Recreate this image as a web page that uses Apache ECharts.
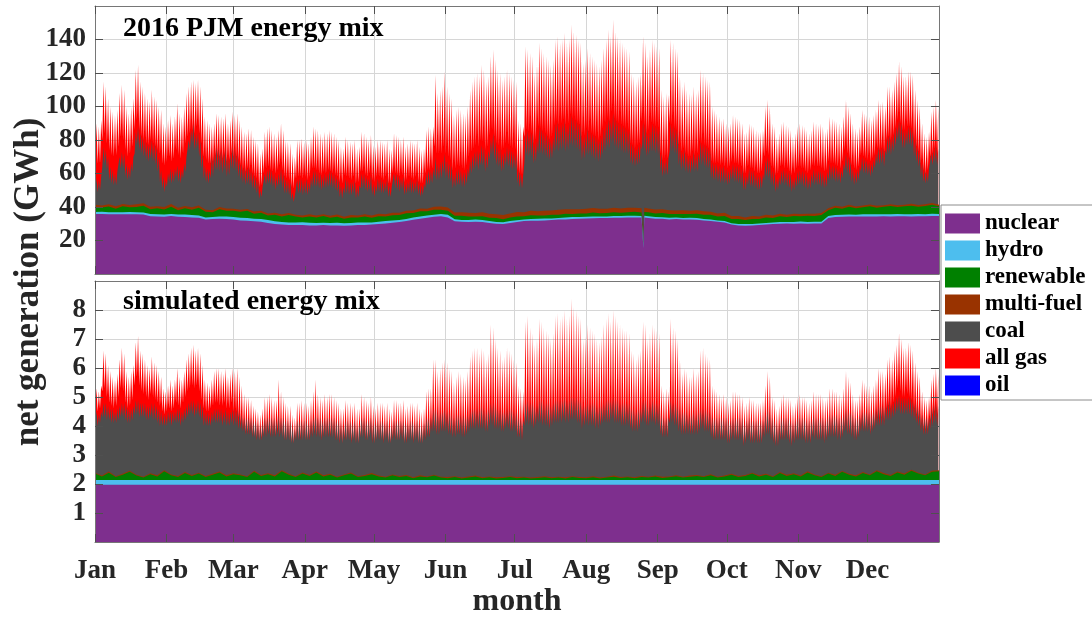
<!DOCTYPE html>
<html><head><meta charset="utf-8">
<script src="https://cdn.jsdelivr.net/npm/echarts@6/dist/echarts.min.js"></script>
<style>html,body{margin:0;padding:0;background:#fff}#c{width:1092px;height:619px}</style>
</head><body><div id="c"></div>
<script>
// ---------- categories / ticks ----------
const monthNames = ['Jan','Feb','Mar','Apr','May','Jun','Jul','Aug','Sep','Oct','Nov','Dec'];
const monthStartDays = [0,31,60,91,121,152,182,213,244,274,305,335];
const pjmTicks = [20,40,60,80,100,120,140];
const simTicks = [1,2,3,4,5,6,7,8];
const legendNames = ['nuclear','hydro','renewable','multi-fuel','coal','all gas','oil'];

// ---------- 2016 PJM (GWh), one value per day (day 0 = 1 Jan) ----------
// total generation at the afternoon peak / at the night low
const pjmTotalDay = [
90,88,92,115,112,105,100,97,95,98,108,113,110,100,96,100,105,122,125,115,
112,108,105,103,110,106,104,100,98,90,88,92,95,90,94,102,96,94,100,108,
112,115,116,114,116,112,105,94,92,90,88,90,96,95,94,93,96,90,92,97,
95,96,92,88,85,84,87,86,82,80,78,72,75,85,87,88,86,84,82,86,
90,86,80,79,78,72,70,80,80,81,79,80,78,82,88,87,86,84,82,85,
84,86,85,84,82,80,76,75,82,80,79,78,80,75,76,85,84,82,80,83,
77,76,80,80,79,78,80,75,74,84,83,82,80,82,76,78,80,79,78,80,
76,74,75,86,88,87,88,119,108,110,112,121,112,108,105,95,98,100,98,96,
95,100,110,115,118,120,118,125,122,115,118,130,134,128,122,120,116,118,122,120,
118,116,115,92,90,88,136,134,132,130,120,125,138,135,132,130,128,125,128,140,
142,138,140,144,138,140,149,145,143,140,138,126,128,135,132,130,128,126,124,128,
135,140,146,142,152,145,142,140,138,136,135,133,120,118,115,118,120,142,138,130,
134,140,138,136,135,110,106,108,107,140,138,135,133,118,112,115,110,108,107,112,
108,110,122,120,118,116,115,100,98,96,94,92,93,90,88,90,95,94,93,92,
90,84,85,90,89,88,86,85,85,86,100,104,100,90,88,82,84,90,91,89,
88,86,82,84,88,90,89,88,86,84,86,91,90,89,90,88,85,87,94,93,
92,91,90,88,94,104,100,96,90,87,85,88,98,96,95,94,92,95,98,104,
102,103,100,112,112,110,115,120,127,124,118,118,121,121,119,110,104,100,90,84,
82,85,97,100,104,100];
const pjmTotalNight = [
68,66,66,80,84,78,74,71,70,71,76,82,80,74,70,72,76,86,92,86,
82,80,78,77,80,78,76,74,72,66,65,67,70,67,69,74,71,69,72,78,
82,84,86,84,88,84,78,70,68,66,66,67,71,71,70,69,71,67,68,72,
70,70,68,65,62,61,63,62,60,58,57,52,53,60,63,64,62,61,60,62,
65,62,58,57,56,52,51,57,58,58,57,58,56,58,63,63,62,60,59,61,
60,62,61,60,59,58,55,54,59,58,57,56,58,54,55,61,61,59,58,60,
56,55,58,58,57,56,58,54,54,60,60,59,58,59,55,56,58,57,56,58,
55,54,54,60,62,62,63,76,72,72,72,76,72,70,68,62,63,65,64,63,
62,65,70,73,75,77,76,80,79,74,76,83,86,82,78,77,74,75,78,77,
76,75,74,62,60,59,82,86,85,84,78,80,88,87,85,84,82,80,82,89,
91,89,90,92,89,90,95,93,92,90,89,82,83,87,85,84,83,82,80,82,
87,90,93,91,97,93,91,90,89,88,87,86,78,77,75,77,78,91,89,84,
86,90,89,88,87,72,68,69,69,90,89,87,86,77,73,75,72,70,70,73,
71,72,79,78,77,76,75,67,66,66,66,65,66,64,63,64,67,66,66,65,
64,60,60,64,63,63,61,60,60,61,70,73,71,64,63,59,60,64,65,63,
63,61,59,60,63,64,63,63,61,60,62,65,64,64,64,63,61,62,67,66,
66,65,64,63,67,74,72,69,65,63,62,64,71,70,69,68,67,69,71,75,
74,75,73,80,82,80,83,87,92,90,86,86,88,88,87,80,76,73,66,62,
60,62,70,72,75,72];
// upper edge of the coal layer (cumulative) at the afternoon peak / night low
const pjmCoalEdgeDay = [
57,56,58,76,74,70,64,62,60,61,70,73,72,66,64,66,70,85,88,84,
82,80,78,77,80,78,76,70,62,58,56,60,63,62,63,65,63,62,66,70,
80,86,90,84,85,80,72,65,63,62,70,72,76,75,74,72,75,70,72,76,
74,72,68,66,64,63,64,62,60,58,56,50,52,60,62,63,62,60,58,60,
63,60,57,56,55,49,47,56,57,57,56,57,55,58,62,62,61,60,58,60,
60,62,61,60,58,57,53,52,57,56,55,55,56,52,53,60,60,58,57,59,
54,53,57,57,56,55,57,53,52,60,60,59,57,58,54,55,57,56,55,57,
54,53,54,60,62,62,63,70,66,67,68,72,68,66,65,60,62,63,62,61,
61,63,68,71,73,74,73,77,76,72,74,80,84,80,76,75,72,73,76,75,
74,73,72,62,60,59,84,86,85,84,78,80,88,87,85,84,82,80,82,90,
91,89,90,92,88,90,95,93,92,90,89,82,83,87,85,84,83,82,80,82,
87,90,93,91,96,93,91,90,89,88,87,86,78,77,75,77,78,91,89,84,
86,90,89,88,87,72,68,69,69,90,89,87,86,77,73,75,72,70,70,73,
71,72,79,78,77,76,75,67,66,66,65,64,65,63,62,63,66,65,65,64,
63,59,59,63,62,62,60,59,59,60,68,70,68,62,61,57,58,62,63,62,
61,60,57,58,61,62,62,61,60,58,60,63,62,62,62,61,59,61,66,65,
65,64,63,62,66,72,70,67,63,61,62,64,70,69,68,67,66,68,72,76,
75,76,74,82,83,82,85,88,92,90,86,86,88,88,86,80,76,73,66,62,
61,63,72,74,77,75];
const pjmCoalEdgeNight = [
50,49,50,64,66,62,56,54,53,53,60,63,63,58,56,57,61,72,77,74,
72,70,68,67,69,67,65,61,55,51,49,52,55,54,55,57,55,54,57,61,
69,74,78,74,75,70,63,57,55,54,57,58,62,62,61,60,62,58,59,63,
62,61,58,56,54,53,54,53,51,50,48,45,46,51,53,54,53,52,50,52,
53,51,48,48,47,44,43,47,48,48,47,48,47,49,52,52,52,51,50,51,
51,52,52,51,50,49,46,45,48,48,47,47,48,45,46,51,51,50,49,50,
47,46,49,49,48,48,49,46,46,51,51,50,49,50,47,48,49,48,48,49,
47,46,47,51,53,53,54,58,56,56,57,60,57,56,55,51,52,53,53,52,
52,54,58,60,62,63,62,65,65,61,63,68,71,68,65,64,61,62,65,64,
63,62,62,54,52,51,66,71,70,70,66,67,72,72,71,70,69,68,69,73,
74,73,74,75,73,74,77,76,75,74,73,68,69,72,71,70,69,68,67,68,
71,73,76,75,78,76,75,74,73,72,72,71,66,65,64,65,66,74,73,70,
71,73,73,72,71,61,58,59,59,73,73,72,71,65,62,63,61,60,60,62,
61,61,66,65,64,63,63,57,56,56,55,54,55,54,53,54,56,55,55,54,
53,50,50,53,52,52,51,50,50,51,56,58,57,53,52,49,50,53,54,53,
52,51,49,50,52,53,53,52,51,50,51,54,53,53,53,52,51,52,56,56,
56,55,55,54,57,62,60,58,55,53,54,56,61,60,60,59,58,60,63,66,
65,66,64,71,72,71,73,76,80,79,75,75,77,77,76,70,67,64,58,55,
54,55,63,65,67,65];
// thin layers, one value every 3 days (day 0,3,...,366)
const pjmNuclear = [
35.8,35.8,35.7,35.7,35.6,35.6,35.6,35.5,34.5,34.3,34.2,34.6,34.2,34.0,33.8,33.6,32.6,32.8,33.0,32.8,
32.5,32.0,31.8,31.5,31.2,30.4,29.8,29.5,29.3,29.2,29.2,29.0,29.0,29.2,29.0,29.0,28.8,29.0,29.2,29.3,
29.5,29.8,30.2,30.6,31.0,31.6,32.4,33.0,33.6,34.2,34.5,33.8,31.5,31.2,31.0,31.2,31.0,30.5,30.0,29.8,
30.5,31.0,31.6,31.8,31.8,32.0,32.2,32.5,32.6,32.8,33.0,33.2,33.3,33.4,33.5,33.6,33.6,33.8,33.8,33.8,
33.5,33.0,33.0,32.6,32.8,32.5,32.6,32.4,32.0,31.6,31.2,30.8,29.5,28.9,28.8,29.0,29.3,29.6,29.8,30.0,
30.2,30.0,30.2,30.0,30.1,30.2,33.5,34.0,34.2,34.3,34.3,34.4,34.4,34.4,34.5,34.4,34.5,34.5,34.4,34.5,
34.5,34.6,34.6];
const pjmHydro = [
1.2,1.3,1.2,1.1,1.3,1.4,1.2,1.2,1.3,1.4,1.3,1.2,1.3,1.5,1.4,1.3,1.2,1.3,1.4,1.5,
1.5,1.6,1.7,1.5,1.6,1.8,1.7,1.6,1.5,1.6,1.7,1.6,1.5,1.4,1.5,1.6,1.5,1.4,1.5,1.4,
1.3,1.4,1.5,1.4,1.3,1.2,1.3,1.4,1.3,1.2,1.3,1.5,1.2,1.1,1.2,1.3,1.2,1.1,1.0,1.1,
1.2,1.1,1.0,1.1,1.2,1.1,1.0,1.0,1.1,1.2,1.1,1.0,1.1,1.0,0.9,1.0,1.1,1.0,1.0,0.9,
1.0,1.0,0.9,1.0,1.0,0.9,1.0,1.0,0.9,0.9,0.8,0.9,0.8,0.9,1.0,0.9,0.8,0.9,0.9,1.0,
0.9,1.0,1.1,1.0,1.1,1.0,1.1,1.2,1.1,1.2,1.1,1.2,1.3,1.2,1.1,1.2,1.3,1.2,1.2,1.3,
1.2,1.3,1.2];
const pjmRenewable = [
3.0,2.6,3.4,2.2,3.6,2.8,3.2,4.0,2.9,3.5,3.0,4.4,2.6,3.8,3.1,4.6,3.3,2.7,4.2,3.5,
3.8,3.6,4.2,3.0,3.7,2.8,3.9,3.2,4.4,3.5,2.9,3.8,3.3,4.0,3.1,3.6,2.7,3.4,3.0,3.7,
2.8,3.3,2.6,3.1,2.9,3.4,2.7,3.0,2.5,2.9,2.6,2.4,2.1,2.5,2.2,1.9,2.3,2.0,2.4,1.8,
2.1,2.3,1.9,2.2,2.0,1.8,2.1,1.9,2.2,1.8,2.0,1.9,2.3,1.8,2.0,2.2,1.9,2.1,2.4,2.0,
2.3,2.1,2.5,2.2,2.0,2.4,2.2,2.6,2.5,2.8,2.3,2.9,2.6,3.1,2.4,3.0,2.7,3.3,2.8,3.5,
3.0,3.6,3.2,3.8,3.4,4.0,3.5,4.3,3.7,4.6,3.9,4.2,4.8,4.0,4.5,5.0,4.2,4.7,5.2,4.4,
4.9,5.4,4.6];
const pjmMultiFuel = [
1.3,1.2,1.4,1.5,1.3,1.4,1.6,1.5,1.4,1.3,1.5,1.6,1.4,1.3,1.5,1.4,1.3,1.2,1.4,1.3,
1.2,1.2,1.1,1.3,1.2,1.1,1.2,1.3,1.2,1.1,1.2,1.3,1.2,1.1,1.2,1.3,1.2,1.4,1.3,1.2,
1.3,1.4,1.3,1.5,1.4,1.6,1.5,1.7,1.6,1.8,1.9,2.0,1.9,2.1,2.2,2.0,2.3,2.4,2.2,2.5,
2.3,2.6,2.4,2.7,2.5,2.8,2.6,2.9,2.7,2.8,2.6,2.9,2.7,2.8,2.6,2.7,2.5,2.6,2.4,2.5,
2.3,2.4,2.2,2.3,2.1,2.2,2.0,2.1,2.0,1.9,1.8,1.9,1.7,1.8,1.6,1.7,1.5,1.6,1.4,1.5,
1.3,1.4,1.3,1.2,1.3,1.2,1.1,1.2,1.1,1.2,1.0,1.1,1.0,1.1,1.0,1.1,1.0,1.0,1.1,1.0,
1.0,1.1,1.0];
// short nuclear outage in late August
const pjmOutageDays = [237.4, 237.8, 238.2];
const pjmOutageNuclear = [33.8, 15.5, 33.8];
const pjmOutageHydro = [1.0, 0.4, 1.0];
const pjmOutageRenewable = [2.2, 0.8, 2.2];
const pjmOutageMultiFuel = [2.6, 0.8, 2.6];

// ---------- simulated mix, one value per day ----------
const simTotalDay = [
5.3,5.2,5.4,6.6,6.5,6.1,5.9,5.7,5.6,5.8,6.3,6.7,6.5,5.9,5.7,5.9,6.1,6.9,7.1,6.6,
6.5,6.3,6.1,6.0,6.4,6.2,6.1,5.9,5.7,5.3,5.2,5.4,5.6,5.4,5.6,6.0,5.7,5.6,5.9,6.3,
6.5,6.7,6.8,6.6,6.7,6.5,6.1,5.6,5.5,5.4,5.6,5.9,6.0,6.0,5.9,5.8,6.0,5.7,5.8,6.0,
5.9,6.0,5.7,5.4,5.1,5.0,5.0,4.9,4.7,4.6,4.5,4.4,4.6,5.0,5.0,5.1,5.0,4.9,4.9,5.6,
5.2,5.0,4.8,4.7,4.7,4.4,4.3,4.8,4.8,4.9,4.8,4.8,4.7,4.9,5.2,5.6,5.1,5.0,4.9,5.1,
5.0,5.1,5.1,5.0,4.9,4.8,4.6,4.6,4.9,4.8,4.8,4.7,4.8,4.6,4.6,5.1,5.0,4.9,4.8,5.0,
4.7,4.6,4.8,4.8,4.8,4.7,4.8,4.6,4.5,4.9,4.9,4.8,4.8,4.9,4.6,4.7,4.8,4.8,4.7,4.8,
4.6,4.5,4.6,5.2,5.3,5.3,6.3,6.3,5.9,6.0,6.2,6.3,6.2,6.0,5.9,5.5,5.7,5.9,5.8,5.7,
5.6,5.9,6.4,6.6,6.7,6.7,6.5,6.7,6.6,6.3,6.5,7.5,7.4,7.0,6.7,6.6,6.3,6.4,6.7,6.6,
6.5,6.3,6.2,5.4,5.3,5.2,7.6,7.8,7.4,7.2,6.8,7.0,7.7,7.6,7.4,7.3,7.2,7.0,7.2,7.8,
7.9,7.7,7.8,8.0,7.7,7.8,8.4,8.1,8.0,7.8,7.7,7.0,7.1,7.5,7.4,7.3,7.2,7.0,6.9,7.1,
7.5,7.7,7.9,7.6,8.0,7.8,7.6,7.5,7.4,7.3,7.3,7.2,6.6,6.5,6.3,6.5,6.6,7.6,7.5,7.0,
7.2,7.5,7.4,7.3,7.2,5.4,5.2,5.3,5.2,7.7,7.4,7.3,7.0,6.3,5.8,6.0,5.9,5.7,5.7,6.0,
5.8,5.9,6.6,6.7,6.5,6.4,6.3,5.4,5.3,5.2,5.1,5.0,5.1,5.0,4.8,4.9,5.2,5.2,5.1,5.1,
5.0,4.7,4.8,5.0,4.9,4.9,4.8,4.8,4.8,4.9,5.4,5.9,5.7,5.0,4.9,4.6,4.7,5.0,5.1,5.0,
5.0,4.9,4.7,4.8,5.0,5.1,5.0,5.0,4.9,4.8,4.9,5.2,5.1,5.1,5.1,5.0,4.9,5.0,5.3,5.3,
5.2,5.2,5.1,5.0,5.3,5.9,5.7,5.5,5.1,4.9,4.9,5.1,5.6,5.5,5.4,5.4,5.2,5.4,5.6,6.0,
5.9,5.9,5.8,6.3,6.4,6.3,6.6,6.8,7.2,7.0,6.7,6.7,6.9,6.8,6.6,6.2,5.9,5.7,5.2,5.0,
4.9,5.0,5.6,5.8,6.0,5.8];
const simTotalNight = [
4.6,4.5,4.6,5.2,5.3,5.0,4.8,4.7,4.6,4.7,5.0,5.3,5.2,4.8,4.6,4.7,4.9,5.4,5.7,5.4,
5.2,5.1,5.0,4.9,5.1,5.0,4.9,4.8,4.7,4.5,4.4,4.5,4.6,4.5,4.6,4.8,4.7,4.6,4.8,5.0,
5.2,5.3,5.4,5.3,5.4,5.2,4.9,4.6,4.5,4.5,4.6,4.7,4.8,4.8,4.7,4.7,4.8,4.6,4.6,4.8,
4.5,4.5,4.3,4.1,3.9,3.8,3.8,3.8,3.7,3.6,3.6,3.5,3.6,3.7,3.7,3.8,3.7,3.7,3.7,3.9,
3.7,3.6,3.5,3.5,3.5,3.4,3.4,3.5,3.5,3.6,3.5,3.5,3.5,3.6,3.7,3.8,3.7,3.6,3.6,3.7,
3.6,3.7,3.7,3.6,3.6,3.5,3.5,3.4,3.6,3.5,3.5,3.5,3.5,3.4,3.4,3.6,3.6,3.6,3.5,3.6,
3.5,3.4,3.5,3.5,3.5,3.5,3.5,3.4,3.4,3.6,3.6,3.5,3.5,3.6,3.4,3.5,3.5,3.5,3.5,3.5,
3.4,3.4,3.4,3.6,3.7,3.7,3.9,3.9,3.8,3.8,3.9,3.9,3.9,3.8,3.8,3.7,3.7,3.8,3.8,3.7,
3.7,3.8,3.9,4.0,4.0,4.0,4.0,4.0,4.0,3.9,3.9,4.1,4.1,4.0,4.0,4.0,3.9,3.9,4.0,4.0,
3.9,3.9,3.9,3.7,3.7,3.6,4.1,4.2,4.1,4.1,4.0,4.1,4.2,4.2,4.1,4.1,4.1,4.0,4.1,4.2,
4.2,4.2,4.2,4.3,4.2,4.2,4.3,4.3,4.3,4.2,4.2,4.0,4.1,4.2,4.1,4.1,4.1,4.0,4.0,4.1,
4.2,4.2,4.2,4.2,4.3,4.2,4.2,4.2,4.1,4.1,4.1,4.1,4.0,3.9,3.9,3.9,4.0,4.2,4.2,4.1,
4.1,4.2,4.2,4.1,4.1,3.8,3.7,3.7,3.7,4.2,4.2,4.1,4.1,3.9,3.8,3.8,3.8,3.8,3.8,3.8,
3.8,3.8,3.9,4.0,3.9,3.9,3.9,3.7,3.6,3.6,3.6,3.6,3.6,3.6,3.5,3.5,3.6,3.6,3.6,3.6,
3.6,3.4,3.5,3.6,3.5,3.5,3.5,3.5,3.5,3.5,3.7,3.8,3.8,3.6,3.5,3.4,3.4,3.6,3.6,3.6,
3.6,3.5,3.4,3.5,3.6,3.6,3.6,3.6,3.5,3.5,3.5,3.7,3.6,3.6,3.6,3.6,3.5,3.6,3.7,3.7,
3.7,3.7,3.6,3.6,3.7,3.9,3.8,3.8,3.7,3.6,3.6,3.7,4.0,3.9,3.9,3.9,3.8,3.9,4.0,4.3,
4.3,4.3,4.2,4.6,4.7,4.6,4.8,5.0,5.3,5.2,5.0,5.0,5.1,5.0,4.9,4.6,4.4,4.3,4.0,3.9,
3.9,3.9,4.2,4.4,4.5,4.4];
const simCoalEdgeDay = [
4.5,4.4,4.5,4.8,4.8,4.7,4.6,4.6,4.5,4.6,4.7,4.8,4.8,4.7,4.6,4.6,4.7,4.9,4.9,4.8,
4.8,4.8,4.7,4.7,4.8,4.8,4.7,4.6,4.5,4.4,4.4,4.5,4.5,4.5,4.5,4.6,4.6,4.5,4.6,4.7,
4.8,4.9,4.9,4.8,4.9,4.8,4.7,4.5,4.5,4.4,4.5,4.6,4.6,4.6,4.6,4.5,4.6,4.5,4.5,4.6,
4.6,4.6,4.5,4.4,4.3,4.3,4.3,4.3,4.2,4.2,4.1,4.0,4.1,4.3,4.3,4.3,4.3,4.3,4.2,4.4,
4.3,4.3,4.2,4.2,4.2,4.0,3.9,4.2,4.2,4.2,4.2,4.2,4.1,4.2,4.3,4.4,4.3,4.3,4.2,4.3,
4.3,4.3,4.3,4.3,4.2,4.2,4.1,4.0,4.2,4.2,4.2,4.1,4.2,4.0,4.1,4.3,4.3,4.2,4.2,4.3,
4.1,4.1,4.2,4.2,4.2,4.1,4.2,4.0,4.0,4.2,4.2,4.2,4.2,4.2,4.1,4.1,4.2,4.2,4.1,4.2,
4.1,4.0,4.1,4.3,4.3,4.3,4.6,4.6,4.5,4.5,4.5,4.6,4.5,4.5,4.4,4.3,4.4,4.4,4.4,4.4,
4.3,4.4,4.5,4.6,4.6,4.6,4.6,4.7,4.6,4.5,4.6,4.8,4.8,4.7,4.6,4.6,4.5,4.5,4.6,4.6,
4.6,4.5,4.5,4.3,4.3,4.2,4.8,4.9,4.8,4.8,4.7,4.7,4.9,4.9,4.8,4.8,4.8,4.7,4.8,4.9,
4.9,4.9,4.9,5.0,4.9,4.9,5.0,5.0,5.0,4.9,4.9,4.7,4.7,4.8,4.8,4.8,4.8,4.7,4.7,4.7,
4.8,4.9,4.9,4.9,5.0,4.9,4.9,4.8,4.8,4.8,4.8,4.8,4.6,4.6,4.5,4.6,4.6,4.9,4.9,4.7,
4.8,4.9,4.8,4.8,4.8,4.4,4.3,4.3,4.3,4.9,4.8,4.8,4.7,4.6,4.5,4.5,4.5,4.4,4.4,4.5,
4.4,4.5,4.6,4.6,4.6,4.5,4.5,4.3,4.3,4.3,4.3,4.3,4.3,4.3,4.2,4.2,4.3,4.3,4.3,4.3,
4.3,4.1,4.2,4.3,4.2,4.2,4.2,4.2,4.2,4.2,4.4,4.6,4.5,4.3,4.2,4.1,4.1,4.3,4.3,4.3,
4.3,4.2,4.1,4.2,4.3,4.3,4.3,4.3,4.2,4.2,4.2,4.4,4.3,4.3,4.3,4.3,4.2,4.3,4.4,4.4,
4.4,4.4,4.3,4.3,4.4,4.6,4.5,4.5,4.4,4.3,4.3,4.4,4.5,4.5,4.5,4.5,4.4,4.5,4.6,4.7,
4.7,4.7,4.7,4.8,4.9,4.8,4.9,5.0,5.1,5.0,5.0,5.0,5.0,5.0,4.9,4.8,4.7,4.6,4.4,4.3,
4.3,4.3,4.6,4.7,4.8,4.7];
const simCoalEdgeNight = [
4.1,4.0,4.1,4.3,4.3,4.2,4.2,4.1,4.1,4.1,4.2,4.3,4.3,4.2,4.1,4.1,4.2,4.4,4.4,4.3,
4.3,4.3,4.2,4.2,4.3,4.2,4.2,4.1,4.0,4.0,4.0,4.0,4.1,4.0,4.1,4.1,4.1,4.0,4.1,4.2,
4.3,4.4,4.4,4.3,4.4,4.3,4.2,4.0,4.0,4.0,4.0,4.1,4.1,4.1,4.1,4.0,4.1,4.0,4.0,4.1,
4.0,4.0,3.9,3.9,3.8,3.7,3.7,3.7,3.6,3.6,3.5,3.5,3.5,3.6,3.6,3.7,3.6,3.6,3.6,3.7,
3.6,3.6,3.5,3.5,3.5,3.4,3.4,3.5,3.5,3.5,3.5,3.5,3.5,3.5,3.6,3.7,3.6,3.6,3.5,3.6,
3.6,3.6,3.6,3.6,3.5,3.5,3.4,3.4,3.5,3.5,3.5,3.4,3.5,3.4,3.4,3.6,3.6,3.5,3.5,3.6,
3.4,3.4,3.5,3.5,3.5,3.4,3.5,3.4,3.4,3.5,3.5,3.5,3.5,3.5,3.4,3.4,3.5,3.5,3.4,3.5,
3.4,3.4,3.4,3.5,3.6,3.6,3.8,3.8,3.7,3.7,3.8,3.8,3.8,3.7,3.7,3.6,3.6,3.7,3.7,3.6,
3.6,3.7,3.8,3.9,3.9,3.9,3.9,3.9,3.9,3.8,3.8,4.0,4.0,3.9,3.9,3.9,3.8,3.8,3.9,3.9,
3.8,3.8,3.8,3.6,3.6,3.5,4.0,4.1,4.0,4.0,3.9,4.0,4.1,4.1,4.0,4.0,4.0,3.9,4.0,4.1,
4.1,4.1,4.1,4.2,4.1,4.1,4.2,4.2,4.2,4.1,4.1,3.9,4.0,4.1,4.0,4.0,4.0,3.9,3.9,4.0,
4.1,4.1,4.1,4.1,4.2,4.1,4.1,4.1,4.0,4.0,4.0,4.0,3.9,3.8,3.8,3.8,3.9,4.1,4.1,4.0,
4.0,4.1,4.1,4.0,4.0,3.7,3.6,3.6,3.6,4.1,4.1,4.0,4.0,3.8,3.7,3.7,3.7,3.7,3.7,3.7,
3.7,3.7,3.8,3.9,3.8,3.8,3.8,3.6,3.5,3.5,3.5,3.5,3.5,3.5,3.4,3.4,3.5,3.5,3.5,3.5,
3.5,3.3,3.4,3.5,3.4,3.4,3.4,3.4,3.4,3.4,3.6,3.7,3.7,3.5,3.4,3.3,3.3,3.5,3.5,3.5,
3.5,3.4,3.3,3.4,3.5,3.5,3.5,3.5,3.4,3.4,3.4,3.6,3.5,3.5,3.5,3.5,3.4,3.5,3.6,3.6,
3.6,3.6,3.5,3.5,3.6,3.8,3.7,3.7,3.6,3.5,3.5,3.6,3.8,3.8,3.8,3.8,3.7,3.8,3.9,4.0,
4.0,4.0,4.0,4.2,4.2,4.2,4.3,4.4,4.5,4.4,4.4,4.4,4.4,4.4,4.3,4.2,4.1,4.0,3.8,3.7,
3.7,3.7,3.9,4.0,4.1,4.0];
// simulated thin layers, one value every 3 days
const simNuclear = [
1.97,1.97,1.97,1.97,1.97,1.97,1.97,1.97,1.97,1.97,1.97,1.97,1.97,1.97,1.97,1.97,1.97,1.97,1.97,1.97,
1.97,1.97,1.97,1.97,1.97,1.97,1.97,1.97,1.97,1.97,1.97,1.97,1.97,1.97,1.97,1.97,1.97,1.97,1.97,1.97,
1.97,1.97,1.97,1.97,1.97,1.97,1.97,1.97,1.97,1.97,1.97,1.97,1.97,1.97,1.97,1.97,1.97,1.97,1.97,1.97,
1.97,1.97,1.97,1.97,1.97,1.97,1.97,1.97,1.97,1.97,1.97,1.97,1.97,1.97,1.97,1.97,1.97,1.97,1.97,1.97,
1.97,1.97,1.97,1.97,1.97,1.97,1.97,1.97,1.97,1.97,1.97,1.97,1.97,1.97,1.97,1.97,1.97,1.97,1.97,1.97,
1.97,1.97,1.97,1.97,1.97,1.97,1.97,1.97,1.97,1.97,1.97,1.97,1.97,1.97,1.97,1.97,1.97,1.97,1.97,1.97,
1.97,1.97,1.97];
const simHydro = [
0.17,0.17,0.17,0.17,0.17,0.17,0.17,0.17,0.17,0.17,0.17,0.17,0.17,0.17,0.17,0.17,0.17,0.17,0.17,0.17,
0.17,0.17,0.17,0.17,0.17,0.17,0.17,0.17,0.17,0.17,0.17,0.17,0.17,0.17,0.17,0.17,0.17,0.17,0.17,0.17,
0.17,0.17,0.17,0.17,0.17,0.17,0.17,0.17,0.17,0.17,0.17,0.17,0.17,0.17,0.17,0.17,0.17,0.17,0.17,0.17,
0.17,0.17,0.17,0.17,0.17,0.17,0.17,0.17,0.17,0.17,0.17,0.17,0.17,0.17,0.17,0.17,0.17,0.17,0.17,0.17,
0.17,0.17,0.17,0.17,0.17,0.17,0.17,0.17,0.17,0.17,0.17,0.17,0.17,0.17,0.17,0.17,0.17,0.17,0.17,0.17,
0.17,0.17,0.17,0.17,0.17,0.17,0.17,0.17,0.17,0.17,0.17,0.17,0.17,0.17,0.17,0.17,0.17,0.17,0.17,0.17,
0.17,0.17,0.17];
const simRenewable = [
0.22,0.12,0.25,0.10,0.18,0.28,0.15,0.08,0.20,0.12,0.30,0.16,0.10,0.24,0.14,0.22,0.10,0.18,0.26,0.12,
0.20,0.16,0.10,0.28,0.14,0.20,0.12,0.30,0.18,0.10,0.22,0.14,0.26,0.12,0.18,0.08,0.16,0.22,0.10,0.14,
0.20,0.12,0.08,0.16,0.10,0.14,0.06,0.12,0.09,0.15,0.08,0.06,0.10,0.05,0.08,0.12,0.06,0.09,0.05,0.07,
0.10,0.06,0.08,0.05,0.07,0.09,0.06,0.08,0.05,0.10,0.07,0.06,0.09,0.05,0.08,0.11,0.07,0.09,0.06,0.10,
0.08,0.12,0.07,0.09,0.13,0.08,0.11,0.14,0.10,0.16,0.08,0.12,0.18,0.10,0.14,0.22,0.12,0.18,0.10,0.24,
0.14,0.20,0.12,0.26,0.16,0.10,0.22,0.14,0.28,0.18,0.12,0.24,0.16,0.30,0.20,0.14,0.26,0.18,0.32,0.22,
0.16,0.28,0.30];
const simMultiFuel = [
0.03,0.03,0.04,0.03,0.03,0.04,0.03,0.03,0.03,0.04,0.03,0.03,0.04,0.03,0.03,0.03,0.04,0.03,0.03,0.04,
0.03,0.03,0.03,0.04,0.03,0.03,0.04,0.03,0.03,0.03,0.04,0.03,0.03,0.04,0.03,0.03,0.03,0.04,0.03,0.03,
0.04,0.03,0.03,0.03,0.04,0.03,0.03,0.04,0.03,0.03,0.03,0.04,0.03,0.03,0.04,0.03,0.03,0.03,0.04,0.03,
0.03,0.04,0.03,0.03,0.03,0.04,0.03,0.03,0.04,0.03,0.03,0.03,0.04,0.03,0.03,0.04,0.03,0.03,0.03,0.04,
0.03,0.03,0.04,0.03,0.03,0.03,0.04,0.03,0.03,0.04,0.03,0.03,0.03,0.04,0.03,0.03,0.04,0.03,0.03,0.03,
0.04,0.03,0.03,0.04,0.03,0.03,0.03,0.04,0.03,0.03,0.04,0.03,0.03,0.03,0.04,0.03,0.03,0.04,0.03,0.03,
0.03,0.04,0.03];

// ---------- build ----------
const COLORS = {nuclear:'#7E2F8E', hydro:'#4DBEEE', renewable:'#008000', 'multi-fuel':'#993300', coal:'#4D4D4D', 'all gas':'#FF0000', oil:'#0000FF'};
const FONT = '"Liberation Serif","Times New Roman",serif';
const THIN_STEP = 3;

function dailyCycle(night, day) {
  const pts = [];
  for (let d = 0; d < day.length; d++) {
    pts.push([d + 0.17, night[d]]);
    pts.push([d + 0.67, day[d]]);
  }
  return pts;
}
function stackThin(layers, extraDays, extraLayers) {
  const rows = layers[0].map((_, i) => ({x: i * THIN_STEP, v: layers.map(l => l[i])}));
  if (extraDays) extraDays.forEach((x, j) => rows.push({x, v: extraLayers.map(l => l[j])}));
  rows.sort((a, b) => a.x - b.x);
  const out = layers.map(() => []);
  rows.forEach(r => { let acc = 0; r.v.forEach((v, k) => { acc += v; out[k].push([r.x, +acc.toFixed(3)]); }); });
  return out;
}
function areaSeries(name, data, gi) {
  const color = COLORS[name];
  return {name, type:'line', data, xAxisIndex: gi*3, yAxisIndex: gi*3, symbol:'none', showSymbol:false,
    lineStyle:{width:0}, areaStyle:{color, opacity:1, origin:'start'}, itemStyle:{color}, color,
    silent:true, animation:false, emphasis:{disabled:true}, clip:true};
}
const pjmThin = stackThin([pjmNuclear, pjmHydro, pjmRenewable, pjmMultiFuel], pjmOutageDays,
  [pjmOutageNuclear, pjmOutageHydro, pjmOutageRenewable, pjmOutageMultiFuel]);
const simThin = stackThin([simNuclear, simHydro, simRenewable, simMultiFuel]);

const series = [
  areaSeries('all gas', dailyCycle(pjmTotalNight, pjmTotalDay), 0),
  areaSeries('coal', dailyCycle(pjmCoalEdgeNight, pjmCoalEdgeDay), 0),
  areaSeries('multi-fuel', pjmThin[3], 0),
  areaSeries('renewable', pjmThin[2], 0),
  areaSeries('hydro', pjmThin[1], 0),
  areaSeries('nuclear', pjmThin[0], 0),
  areaSeries('all gas', dailyCycle(simTotalNight, simTotalDay), 1),
  areaSeries('coal', dailyCycle(simCoalEdgeNight, simCoalEdgeDay), 1),
  areaSeries('multi-fuel', simThin[3], 1),
  areaSeries('renewable', simThin[2], 1),
  areaSeries('hydro', simThin[1], 1),
  areaSeries('nuclear', simThin[0], 1),
  {name:'oil', type:'line', data:[], xAxisIndex:0, yAxisIndex:0, itemStyle:{color:COLORS.oil}, color:COLORS.oil, silent:true}
];

const BOX = {color:'#767676', width:1};
const TICK = {color:'#505050', width:1};
const GRIDLINE = {color:'#d6d6d6', width:1};
const tickFont = {fontFamily:FONT, fontWeight:'bold', fontSize:27, color:'#262626'};

function xAxes(gi, withLabels) {
  const base = {type:'value', gridIndex:gi, min:0, max:366};
  const frame = (pos) => ({...base, position:pos, z:10,
    axisLine:{show:true, onZero:false, lineStyle:BOX},
    axisTick:{show:true, inside:true, length:8, customValues:monthStartDays, lineStyle:TICK},
    axisLabel:{show:false, customValues:monthStartDays}, splitLine:{show:false}});
  const bottom = frame('bottom');
  if (withLabels) {
    bottom.axisLabel = {show:true, customValues:monthStartDays, margin:16, ...tickFont,
      formatter: v => monthNames[monthStartDays.indexOf(Math.round(v))] || ''};
    bottom.name = 'month'; bottom.nameLocation = 'middle'; bottom.nameGap = 44;
    bottom.nameTextStyle = {fontFamily:FONT, fontWeight:'bold', fontSize:32, color:'#262626'};
  }
  return [
    {...base, position:'bottom', z:0, axisLine:{show:false}, axisTick:{show:false, customValues:monthStartDays},
      axisLabel:{show:false, customValues:monthStartDays}, splitLine:{show:true, lineStyle:GRIDLINE}},
    bottom, frame('top')
  ];
}
function yAxes(gi, max, ticks) {
  const base = {type:'value', gridIndex:gi, min:0, max};
  const frame = (pos, labels) => ({...base, position:pos, z:10,
    axisLine:{show:true, onZero:false, lineStyle:BOX},
    axisTick:{show:true, inside:true, length:8, customValues:ticks, lineStyle:TICK},
    axisLabel: labels ? {show:true, customValues:ticks, margin:9, ...tickFont} : {show:false, customValues:ticks},
    splitLine:{show:false}});
  return [
    {...base, position:'left', z:0, axisLine:{show:false}, axisTick:{show:false, customValues:ticks},
      axisLabel:{show:false, customValues:ticks}, splitLine:{show:true, lineStyle:GRIDLINE}},
    frame('left', true), frame('right', false)
  ];
}

const chart = echarts.init(document.getElementById('c'), null, {renderer:'canvas'});
chart.setOption({
  animation:false,
  backgroundColor:'#fff',
  textStyle:{fontFamily:FONT},
  grid:[
    {left:95, top:6, width:844, height:268},
    {left:95, top:281, width:844, height:263}
  ],
  xAxis:[...xAxes(0,false), ...xAxes(1,true)],
  yAxis:[...yAxes(0,160,pjmTicks), ...yAxes(1,9,simTicks)],
  title:[
    {text:'2016 PJM energy mix', left:123, top:15, padding:0,
      textStyle:{fontFamily:FONT, fontWeight:'bold', fontSize:28, color:'#000'}},
    {text:'simulated energy mix', left:123, top:288, padding:0,
      textStyle:{fontFamily:FONT, fontWeight:'bold', fontSize:28, color:'#000'}}
  ],
  legend:{
    orient:'vertical', left:941, top:205, data:legendNames, icon:'rect',
    itemWidth:35, itemHeight:20, itemGap:4, padding:[7,12,3,4],
    backgroundColor:'#fff', borderColor:'#8c8c8c', borderWidth:1, selectedMode:false,
    textStyle:{fontFamily:FONT, fontWeight:'bold', fontSize:23, color:'#000'}
  },
  graphic:[{type:'text', x:29, y:282, rotation:Math.PI/2, silent:true,
    style:{text:'net generation (GWh)', font:'bold 35px ' + FONT, fill:'#262626', align:'center', verticalAlign:'middle'}}],
  series
});
</script>
</body></html>
